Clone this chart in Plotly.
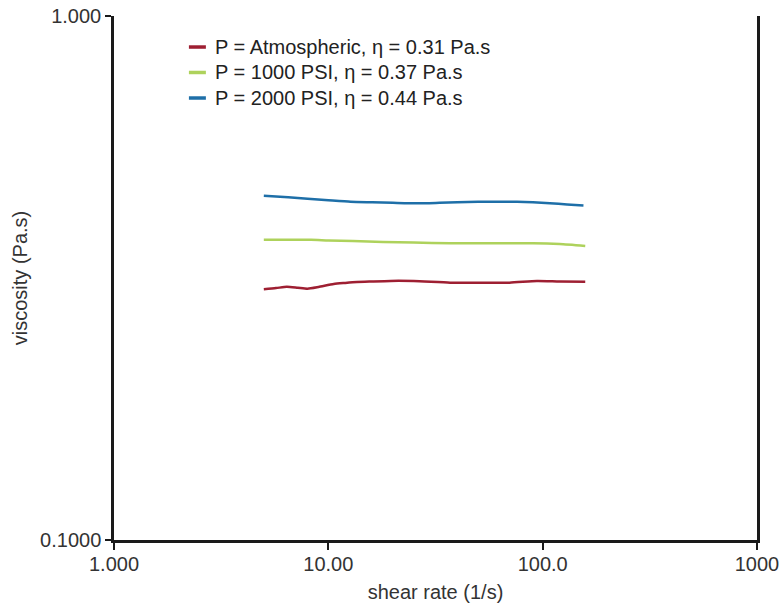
import plotly.graph_objects as go

# Data
names = [
    "P = Atmospheric, \u03b7 = 0.31 Pa.s",
    "P = 1000 PSI, \u03b7 = 0.37 Pa.s",
    "P = 2000 PSI, \u03b7 = 0.44 Pa.s",
]
colors = ["#9E1F32", "#AED25C", "#1E6FA8"]

atm_x = [5.0, 5.7, 6.4, 7.2, 8.0, 9.0, 10.6, 12, 13.6, 16, 19.5, 25, 37, 50, 70, 94, 120, 158]
atm_y = [0.301, 0.3025, 0.3043, 0.303, 0.3017, 0.304, 0.308, 0.3095, 0.3108, 0.3115,
         0.3122, 0.312, 0.3098, 0.3098, 0.3098, 0.3122, 0.3115, 0.3112]

p1000_x = [5.0, 6.5, 8.3, 10, 13, 18, 25, 37, 50, 70, 90, 120, 158]
p1000_y = [0.374, 0.374, 0.374, 0.373, 0.372, 0.3705, 0.3695, 0.3684, 0.3684, 0.3684,
           0.3684, 0.367, 0.364]

p2000_x = [5.0, 6.5, 8.0, 10, 12.7, 16, 20, 26, 33, 40, 50, 63, 76, 90, 108, 130, 155]
p2000_y = [0.454, 0.451, 0.448, 0.445, 0.442, 0.441, 0.440, 0.439, 0.440, 0.441, 0.442,
           0.442, 0.442, 0.441, 0.439, 0.437, 0.435]

x_tickvals = [1, 10, 100, 1000]
x_ticktext = ["1.000", "10.00", "100.0", "1000"]
y_tickvals = [0.1, 1]
y_ticktext = ["0.1000", "1.000"]

series = [(atm_x, atm_y), (p1000_x, p1000_y), (p2000_x, p2000_y)]

fig = go.Figure()
for (xs, ys), name, col in zip(series, names, colors):
    fig.add_trace(go.Scatter(x=xs, y=ys, mode="lines", name=name, showlegend=False,
                             line=dict(color=col, width=2.5, shape="spline", smoothing=0.6)))

font_family = "Liberation Sans, Arial, Helvetica, sans-serif"
axis_color = "#1a1a1a"
text_color = "#333333"
FS = 20

# Legend drawn as key lines + text in paper coordinates (upper-left of plot)
key_x0, key_x1, text_x = 0.1165, 0.1429, 0.1545
row_y = [0.9408, 0.8922, 0.8435]
for name, col, yy in zip(names, colors, row_y):
    fig.add_shape(type="line", xref="paper", yref="paper", x0=key_x0, x1=key_x1, y0=yy, y1=yy,
                  line=dict(color=col, width=3.5))
    fig.add_annotation(xref="paper", yref="paper", x=text_x, y=yy, text=name, showarrow=False,
                       xanchor="left", yanchor="middle",
                       font=dict(size=FS, color="#222222", family=font_family))

fig.update_layout(
    width=782, height=608,
    margin=dict(l=114, r=25, t=16, b=68, autoexpand=False),
    paper_bgcolor="white", plot_bgcolor="white",
    font=dict(family=font_family, size=FS, color=text_color),
    showlegend=False,
    xaxis=dict(type="log", range=[0, 3], tickvals=x_tickvals, ticktext=x_ticktext,
               showgrid=False, zeroline=False, showline=True, linecolor=axis_color,
               linewidth=2.5, ticks="outside", ticklen=7, tickwidth=2, tickcolor=axis_color,
               automargin=False, ticklabeloverflow="allow", ticklabelstandoff=-3,
               title=dict(text="shear rate (1/s)", font=dict(size=FS, color=text_color), standoff=12),
               tickfont=dict(size=FS, color=text_color), mirror=False),
    yaxis=dict(type="log", range=[-1, 0], tickvals=y_tickvals, ticktext=y_ticktext,
               showgrid=False, zeroline=False, showline=True, linecolor=axis_color,
               linewidth=2.5, ticks="outside", ticklen=6, tickwidth=2, tickcolor=axis_color,
               automargin=False, ticklabeloverflow="allow",
               title=dict(text="viscosity (Pa.s)", font=dict(size=FS, color=text_color), standoff=8),
               tickfont=dict(size=FS, color=text_color)),
)

# right-hand vertical frame line (y axis drawn again on the right, without ticks)
fig.update_layout(yaxis2=dict(overlaying="y", side="right", type="log", range=[-1, 0],
                              showline=True, linecolor=axis_color, linewidth=2.5,
                              automargin=False,
                              showticklabels=False, ticks="", showgrid=False, zeroline=False))
fig.add_trace(go.Scatter(x=[None], y=[None], yaxis="y2", showlegend=False, hoverinfo="skip"))

# remove the browser's default page margin so the 782x608 figure fills the window exactly
fig.write_html("out.html", config={"displayModeBar": False},
               post_script="document.body.style.margin='0';document.body.style.overflow='hidden';")
